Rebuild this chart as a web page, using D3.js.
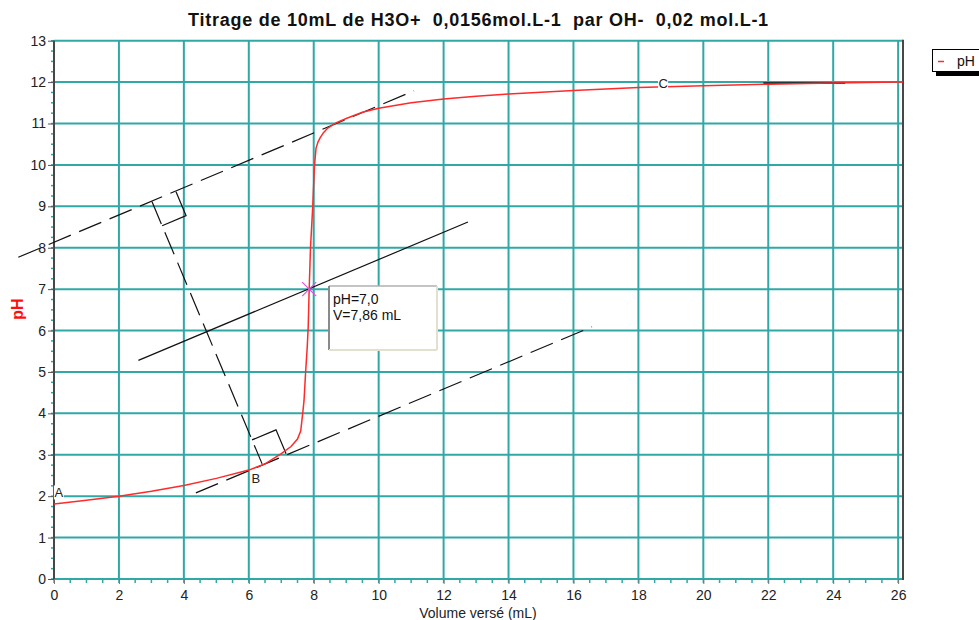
<!DOCTYPE html>
<html>
<head>
<meta charset="utf-8">
<script src="https://cdn.jsdelivr.net/npm/d3@7"></script>
<style>
  html, body { margin: 0; padding: 0; background: #fff; }
  svg { display: block; font-family: "Liberation Sans", Arial, sans-serif; }
</style>
</head>
<body>
<svg id="chart" width="979" height="620"></svg>
<script>
// ---- data ----
const titleText = "Titrage de 10mL de H3O+  0,0156mol.L-1  par OH-  0,02 mol.L-1";
const xLabel = "Volume versé (mL)";
const yLabel = "pH";
const legendLabel = "pH";

const volume = [0, 1, 2, 3, 4, 5, 6, 6.5, 7, 7.3, 7.5, 7.6, 7.66, 7.7, 7.75, 7.8, 7.83, 7.86, 7.9, 7.97, 8.02, 8.07, 8.13, 8.2, 8.3, 8.42, 8.55, 8.7, 9, 9.5, 10, 11, 12, 13, 14, 16, 18, 20, 22, 24, 26, 26.15];
const pHValues = [1.81, 1.9, 2.0, 2.12, 2.26, 2.43, 2.63, 2.78, 3.03, 3.2, 3.38, 3.58, 4.0, 4.3, 5.0, 5.6, 6.1, 7.0, 8.0, 9.0, 9.95, 10.4, 10.55, 10.66, 10.78, 10.88, 10.95, 11.02, 11.12, 11.27, 11.37, 11.5, 11.59, 11.66, 11.71, 11.8, 11.87, 11.91, 11.95, 11.98, 12.0, 12.0];

const xTickValues = [0, 2, 4, 6, 8, 10, 12, 14, 16, 18, 20, 22, 24, 26];
const yTickValues = [0, 1, 2, 3, 4, 5, 6, 7, 8, 9, 10, 11, 12, 13];

// construction lines (volume, pH)
const tangentHigh = [[-1.10, 7.77], [11.09, 11.79]];
const tangentLow = [[4.37, 2.08], [16.57, 6.09]];
const middleLine = [[2.60, 5.28], [12.75, 8.62]];
const perpLine = [[3.02, 9.11], [6.41, 2.78]];
const asymptoteSeg = [[21.85, 11.98], [24.37, 11.98]];
const equivVolume = 7.86;
const equivPH = 7.0;
const equivText = ["pH=7,0", "V=7,86 mL"];
const pointNames = ["A", "B", "C"];
const pointVolumes = [0.15, 6.22, 18.76];
const pointPHs = [2.09, 2.45, 11.99];

// ---- layout ----
const svg = d3.select("#chart");
const plotL = 54, plotR = 903, plotT = 40.7, plotB = 579;
const x = d3.scaleLinear().domain([0, 26.15]).range([plotL, plotR]);
const y = d3.scaleLinear().domain([0, 13]).range([plotB, plotT]);
const teal = "#2fa8a6";
const dark = "#474747";

// title
svg.append("text")
  .attr("x", (plotL + plotR) / 2).attr("y", 26)
  .attr("text-anchor", "middle")
  .style("white-space", "pre")
  .attr("font-size", 18).attr("letter-spacing", 0.75)
  .attr("font-weight", "bold").attr("fill", "#111")
  .text(titleText);

// grid
const g = svg.append("g");
g.selectAll(".vg").data(xTickValues.filter(d => d > 0)).join("line")
  .attr("x1", d => x(d)).attr("x2", d => x(d))
  .attr("y1", plotT).attr("y2", plotB)
  .attr("stroke", teal).attr("stroke-width", 2);
g.selectAll(".hg").data(yTickValues.filter(d => d > 0)).join("line")
  .attr("x1", plotL).attr("x2", plotR)
  .attr("y1", d => y(d)).attr("y2", d => y(d))
  .attr("stroke", teal).attr("stroke-width", 2);

// minor ticks
const xMinor = d3.range(0, 26.01, 0.5);
g.selectAll(".xm").data(xMinor).join("line")
  .attr("x1", d => x(d)).attr("x2", d => x(d))
  .attr("y1", plotB).attr("y2", plotB + 4)
  .attr("stroke", teal).attr("stroke-width", 1.5);
const yMinor = d3.range(0, 13.01, 0.25);
g.selectAll(".ym").data(yMinor).join("line")
  .attr("x1", plotL - 3).attr("x2", plotL)
  .attr("y1", d => y(d)).attr("y2", d => y(d))
  .attr("stroke", teal).attr("stroke-width", 1.5);

// bottom axis line (teal) and frame
g.append("line").attr("x1", plotL).attr("x2", plotR).attr("y1", plotB).attr("y2", plotB)
  .attr("stroke", teal).attr("stroke-width", 2);
g.append("line").attr("x1", plotL).attr("x2", plotL).attr("y1", plotT).attr("y2", plotB + 1)
  .attr("stroke", dark).attr("stroke-width", 2);
g.append("line").attr("x1", plotR).attr("x2", plotR).attr("y1", plotT - 1).attr("y2", plotB + 1)
  .attr("stroke", dark).attr("stroke-width", 2);

// major ticks + labels via d3 axes
const xAxis = d3.axisBottom(x).tickValues(xTickValues).tickSize(5).tickPadding(3).tickFormat(d3.format("d"));
const xa = svg.append("g").attr("transform", `translate(0,${plotB})`).call(xAxis);
xa.select(".domain").remove();
xa.selectAll(".tick line").attr("stroke", "#777").attr("stroke-width", 1);
xa.selectAll(".tick text").attr("font-size", 14).attr("fill", "#222")
  .attr("font-family", "Liberation Sans, Arial, sans-serif").attr("dy", "0.95em");

const yAxis = d3.axisLeft(y).tickValues(yTickValues).tickSize(6).tickPadding(2).tickFormat(d3.format("d"));
const ya = svg.append("g").attr("transform", `translate(${plotL},0)`).call(yAxis);
ya.select(".domain").remove();
ya.selectAll(".tick line").attr("stroke", "#555").attr("stroke-width", 1);
ya.selectAll(".tick text").attr("font-size", 14).attr("fill", "#222")
  .attr("font-family", "Liberation Sans, Arial, sans-serif");

// axis titles
svg.append("text").attr("x", 478).attr("y", 618).attr("text-anchor", "middle")
  .attr("font-size", 14).attr("fill", "#222").text(xLabel);
svg.append("text").attr("transform", "translate(23,309) rotate(-90)")
  .attr("text-anchor", "middle").attr("font-size", 16).attr("font-weight", "bold")
  .attr("fill", "#ff1010").text(yLabel);

// construction lines
const lineGen = d3.line().x(d => x(d[0])).y(d => y(d[1]));
const dash = "24,9";
svg.append("path").attr("d", lineGen(tangentHigh)).attr("fill", "none")
  .attr("stroke", "#111").attr("stroke-width", 1.2).attr("stroke-dasharray", dash);
svg.append("path").attr("d", lineGen(tangentLow)).attr("fill", "none")
  .attr("stroke", "#111").attr("stroke-width", 1.2).attr("stroke-dasharray", dash);
svg.append("path").attr("d", lineGen(middleLine)).attr("fill", "none")
  .attr("stroke", "#111").attr("stroke-width", 1.2);
svg.append("path").attr("d", lineGen(perpLine)).attr("fill", "none")
  .attr("stroke", "#111").attr("stroke-width", 1.2).attr("stroke-dasharray", dash);

// right-angle squares at the two intersections (in pixel space)
function unit(a, b) {
  const dx = x(b[0]) - x(a[0]), dy = y(b[1]) - y(a[1]);
  const L = Math.hypot(dx, dy); return [dx / L, dy / L];
}
const tdir = unit(tangentHigh[0], tangentHigh[1]);
const side = 26;
function square(pt, pdir) {
  const p0 = [x(pt[0]), y(pt[1])];
  const p1 = [p0[0] + tdir[0] * side, p0[1] + tdir[1] * side];
  const p3 = [p0[0] + pdir[0] * side, p0[1] + pdir[1] * side];
  const p2 = [p1[0] + pdir[0] * side, p1[1] + pdir[1] * side];
  return [p1, p2, p3];
}
const downDir = unit(perpLine[0], perpLine[1]);
const upDir = [-downDir[0], -downDir[1]];
[square(perpLine[0], downDir), square(perpLine[1], upDir)].forEach(sq => {
  svg.append("path").attr("d", d3.line()(sq)).attr("fill", "none")
    .attr("stroke", "#111").attr("stroke-width", 1.2);
});

// asymptote segment
svg.append("path").attr("d", lineGen(asymptoteSeg)).attr("fill", "none")
  .attr("stroke", "#1e3a3a").attr("stroke-width", 2);

// titration curve
svg.append("path")
  .datum(volume.map((v, i) => [v, pHValues[i]]))
  .attr("d", lineGen).attr("fill", "none")
  .attr("stroke", "#ff2a2a").attr("stroke-width", 1.5);

// point labels A, B, C
pointNames.forEach((name, i) => {
  const px = x(pointVolumes[i]), py = y(pointPHs[i]);
  svg.append("rect").attr("x", px - 5).attr("y", py - 7).attr("width", 10).attr("height", 14).attr("fill", "#fff");
  svg.append("text").attr("x", px).attr("y", py + 5).attr("text-anchor", "middle")
    .attr("font-size", 13).attr("fill", "#222").text(name);
});

// equivalence marker
const ex = x(equivVolume), ey = y(equivPH);
svg.append("path").attr("d", `M${ex - 7},${ey - 7}L${ex + 7},${ey + 7}M${ex - 7},${ey + 7}L${ex + 7},${ey - 7}`)
  .attr("stroke", "#e050e0").attr("stroke-width", 1.2);

// info box
const bx = 329, by = 286, bw = 108, bh = 64;
svg.append("rect").attr("x", bx).attr("y", by).attr("width", bw).attr("height", bh).attr("fill", "#fff");
svg.append("line").attr("x1", bx).attr("x2", bx + bw).attr("y1", by).attr("y2", by).attr("stroke", "#b0b0b0").attr("stroke-width", 1.5);
svg.append("line").attr("x1", bx).attr("x2", bx).attr("y1", by).attr("y2", by + bh).attr("stroke", "#8a8a8a").attr("stroke-width", 2);
svg.append("line").attr("x1", bx + bw).attr("x2", bx + bw).attr("y1", by).attr("y2", by + bh).attr("stroke", "#e4e0d0").attr("stroke-width", 2);
svg.append("line").attr("x1", bx).attr("x2", bx + bw).attr("y1", by + bh).attr("y2", by + bh).attr("stroke", "#e4e0d0").attr("stroke-width", 2);
equivText.forEach((t, i) => {
  svg.append("text").attr("x", bx + 4).attr("y", by + 18 + i * 16)
    .attr("font-size", 14).attr("fill", "#111").text(t);
});

// legend
svg.append("rect").attr("x", 936).attr("y", 53).attr("width", 60).attr("height", 23).attr("fill", "#000");
svg.append("rect").attr("x", 932.5).attr("y", 49.5).attr("width", 60).attr("height", 22)
  .attr("fill", "#fff").attr("stroke", "#000").attr("stroke-width", 1);
svg.append("line").attr("x1", 938).attr("x2", 944).attr("y1", 61.5).attr("y2", 61.5)
  .attr("stroke", "#ff2a2a").attr("stroke-width", 1.5);
svg.append("text").attr("x", 957).attr("y", 66).attr("font-size", 14).attr("fill", "#111").text(legendLabel);
</script>
</body>
</html>
